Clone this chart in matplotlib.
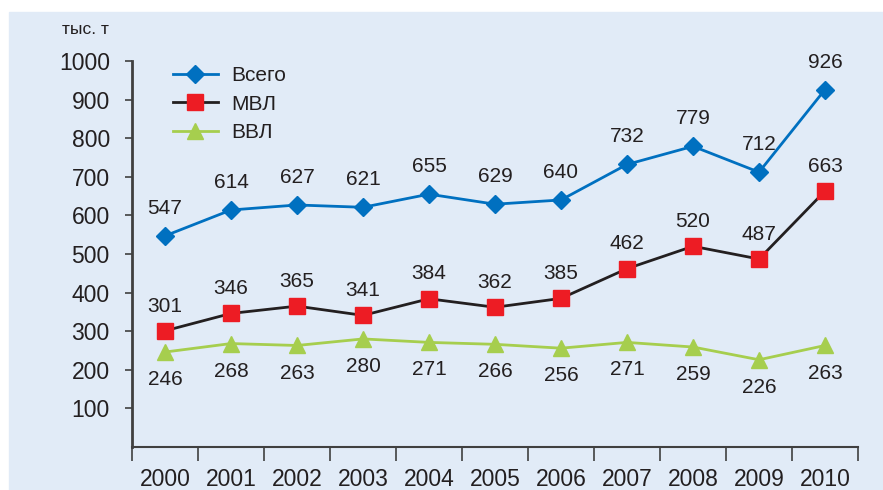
import matplotlib.pyplot as plt
from matplotlib.patches import Rectangle

years = ["2000", "2001", "2002", "2003", "2004", "2005",
         "2006", "2007", "2008", "2009", "2010"]
total = [547, 614, 627, 621, 655, 629, 640, 732, 779, 712, 926]
intl = [301, 346, 365, 341, 384, 362, 385, 462, 520, 487, 663]
domestic = [246, 268, 263, 280, 271, 266, 256, 271, 259, 226, 263]

plt.rcParams["font.family"] = ["Liberation Sans", "DejaVu Sans"]
txt = "#231f20"
bg = "#e1ebf7"

fig = plt.figure(figsize=(8.83, 4.9), dpi=100)
fig.patches.append(Rectangle((9 / 883, 0), 1, 1 - 12 / 490,
                             transform=fig.transFigure, color=bg, zorder=-1))
ax = fig.add_axes([132 / 883, 1 - 447 / 490, 726 / 883, 386 / 490])
ax.set_facecolor("none")

x = list(range(len(years)))
ax.plot(x, total, color="#0070c0", lw=2, marker="D", ms=9.5,
        label="Всего", zorder=3)
ax.plot(x, intl, color="#231f20", lw=2, marker="s", mfc="#ed1c24",
        mec="#ed1c24", ms=11, label="МВЛ", zorder=3)
ax.plot(x, domestic, color="#a6ce4e", lw=2, marker="^", ms=12,
        label="ВВЛ", zorder=3)

for i in x:
    ax.annotate(str(total[i]), (i, total[i]), xytext=(0, 13),
                textcoords="offset points", ha="center", va="bottom",
                fontsize=15, color=txt)
    ax.annotate(str(intl[i]), (i, intl[i]), xytext=(0, 11),
                textcoords="offset points", ha="center", va="bottom",
                fontsize=15, color=txt)
    ax.annotate(str(domestic[i]), (i, domestic[i]), xytext=(0, -13),
                textcoords="offset points", ha="center", va="top",
                fontsize=15, color=txt)

ax.set_xlim(-0.5, len(years) - 0.5)
ax.set_ylim(0, 1000)
ax.set_yticks(range(100, 1001, 100))
ax.tick_params(axis="y", labelsize=16.5, colors="#404040", labelcolor=txt,
               length=5, width=1.2, pad=11)

# year labels centred, tick marks between categories
ax.set_xticks([i - 0.5 for i in range(len(years) + 1)])
ax.set_xticklabels([])
ax.set_xticks(x, minor=True)
ax.set_xticklabels(years, minor=True, fontsize=16.5, color=txt)
ax.tick_params(axis="x", which="major", length=10, width=1.2,
               colors="#404040", direction="out")
ax.tick_params(axis="x", which="minor", length=0, pad=15)

for s in ["top", "right"]:
    ax.spines[s].set_visible(False)
ax.spines["left"].set_color("#404040")
ax.spines["left"].set_linewidth(2)
ax.spines["bottom"].set_color("#404040")
ax.spines["bottom"].set_linewidth(1.5)

fig.text(85 / 883, 1 - 30 / 490, "тыс. т", ha="center", va="center",
         fontsize=12.5, color=txt)

ax.legend(loc="upper left", bbox_to_anchor=(0.03, 1.035), frameon=False,
          fontsize=15, handlelength=2.2, handletextpad=0.6,
          labelspacing=0.45, labelcolor=txt)

fig.savefig("out.png", dpi=100)
